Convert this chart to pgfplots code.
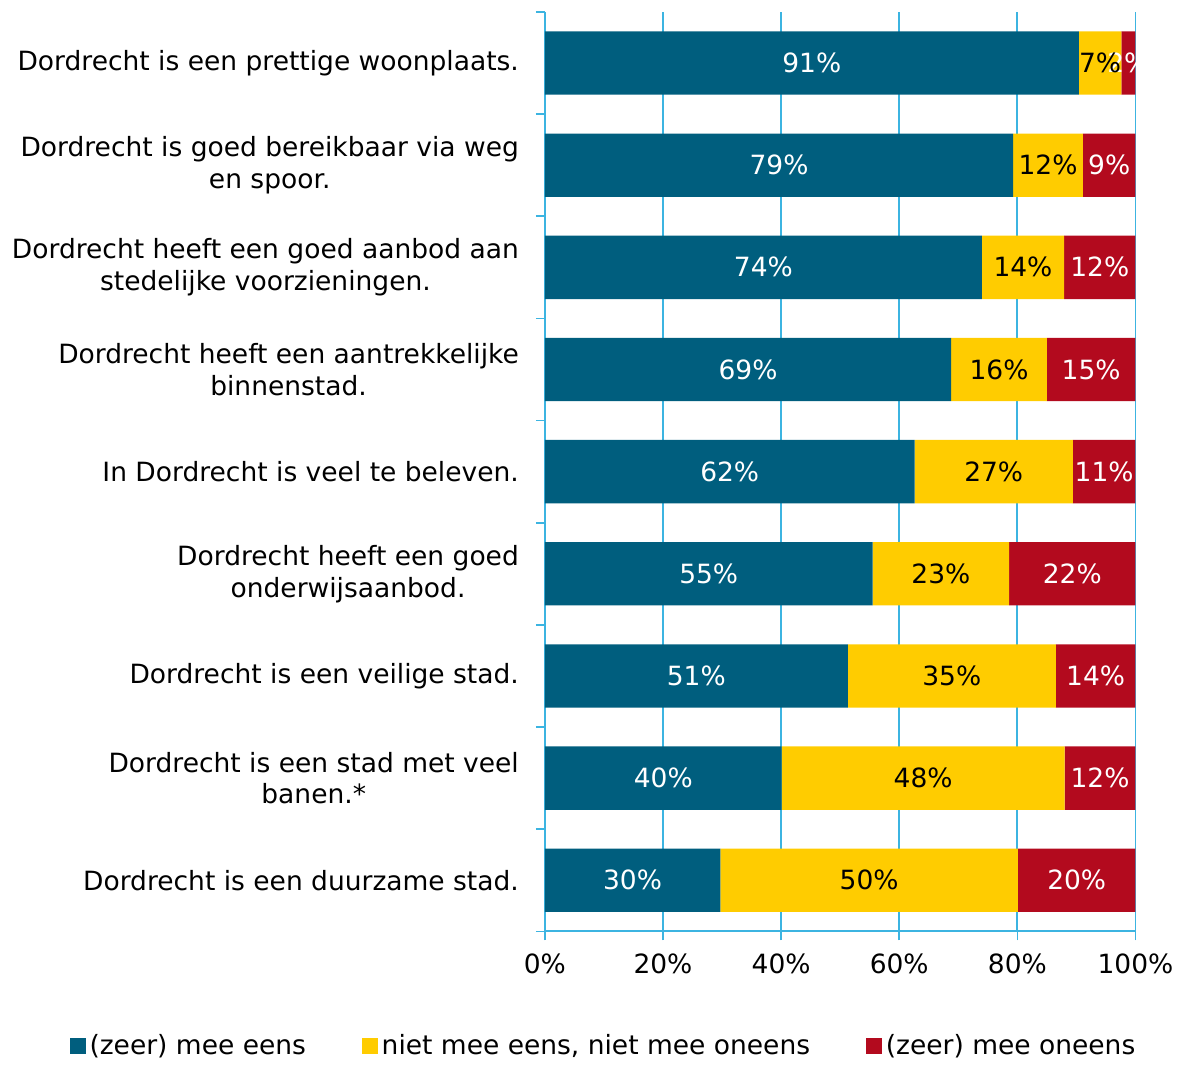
\documentclass[border=0pt]{standalone}
\usepackage{pgfplots}
\pgfplotsset{compat=1.18}
\usepackage{pgfplotstable}
\usepackage{fontspec}
\setmainfont{DejaVu Sans}
\definecolor{dblue}{RGB}{0,94,126}
\definecolor{dyellow}{RGB}{255,204,0}
\definecolor{dred}{RGB}{179,10,30}
\definecolor{gridblue}{RGB}{60,180,225}

\pgfplotsset{sq legend/.style={legend image code/.code={\fill[##1] (0pt,-4pt) rectangle (8pt,4pt);}}}

% y=8 is the top row
\pgfplotstableread{
y eens neutraal oneens la lb lc
8 90.4  7.2  2.4 91  7  2
7 79.3 11.8  8.9 79 12  9
6 74.0 13.9 12.1 74 14 12
5 68.8 16.2 15.0 69 16 15
4 62.6 26.8 10.6 62 27 11
3 55.5 23.1 21.4 55 23 22
2 51.3 35.2 13.5 51 35 14
1 40.1 47.9 12.0 40 48 12
0 29.7 50.4 19.9 30 50 20
}\stelling

\begin{document}
\begin{tikzpicture}[font=\fontsize{13.3}{16}\selectfont]
\path (-273.5pt,-65pt) rectangle (316.5pt,467.5pt);
\begin{axis}[
  at={(0,0)}, anchor=south west,
  scale only axis, width=296.5pt, height=461.5pt,
  xbar stacked, bar width=0.62,
  xmin=0, xmax=100, ymin=-0.5, ymax=8.5,
  axis x line*=bottom, axis y line*=left,
  axis line style={gridblue, line width=1pt, -},
  xmajorgrids, grid style={draw=gridblue, line width=0.9pt},
  major grid style={draw=gridblue, line width=0.9pt},
  tick align=outside, major tick length=4.5pt,
  tick style={gridblue, line width=0.8pt},
  xtick={0,20,...,100},
  xticklabel={\pgfmathprintnumber{\tick}\%},
  xticklabel style={yshift=-3.5pt},
  ytick={0,...,8},
  ytick style={draw=none},
  yticklabels={
    {Dordrecht is een duurzame stad.},
    {Dordrecht is een stad met veel\\banen.*},
    {Dordrecht is een veilige stad.},
    {Dordrecht heeft een goed\\onderwijsaanbod.},
    {In Dordrecht is veel te beleven.},
    {Dordrecht heeft een aantrekkelijke\\binnenstad.},
    {Dordrecht heeft een goed aanbod aan\\stedelijke voorzieningen.},
    {Dordrecht is goed bereikbaar via weg\\en spoor.},
    {Dordrecht is een prettige woonplaats.}},
  yticklabel style={align=center, xshift=-5pt},
  extra y ticks={-0.5,0.5,...,8.5},
  extra y tick labels={},
  extra y tick style={ytick style={draw=gridblue, line width=0.8pt}},
  /pgf/number format/assume math mode=true,
  point meta=explicit,
  nodes near coords={\pgfmathprintnumber{\pgfplotspointmeta}\%},
  every node near coord/.append style={anchor=center},
  legend style={at={(0.101,-0.1246)}, anchor=center, draw=none, fill=none,
    legend columns=3, /tikz/every even column/.append style={column sep=26pt}},
]
\addplot[draw=none, fill=dblue, sq legend,
  every node near coord/.append style={text=white}]
  table[x=eens, y=y, meta=la] {\stelling};
\addlegendentry{(zeer) mee eens}
\addplot[draw=none, fill=dyellow, sq legend,
  every node near coord/.append style={text=black}]
  table[x=neutraal, y=y, meta=lb] {\stelling};
\addlegendentry{niet mee eens, niet mee oneens}
\addplot[draw=none, fill=dred, sq legend,
  every node near coord/.append style={text=white}]
  table[x=oneens, y=y, meta=lc] {\stelling};
\addlegendentry{(zeer) mee oneens}
\end{axis}
\end{tikzpicture}
\end{document}
